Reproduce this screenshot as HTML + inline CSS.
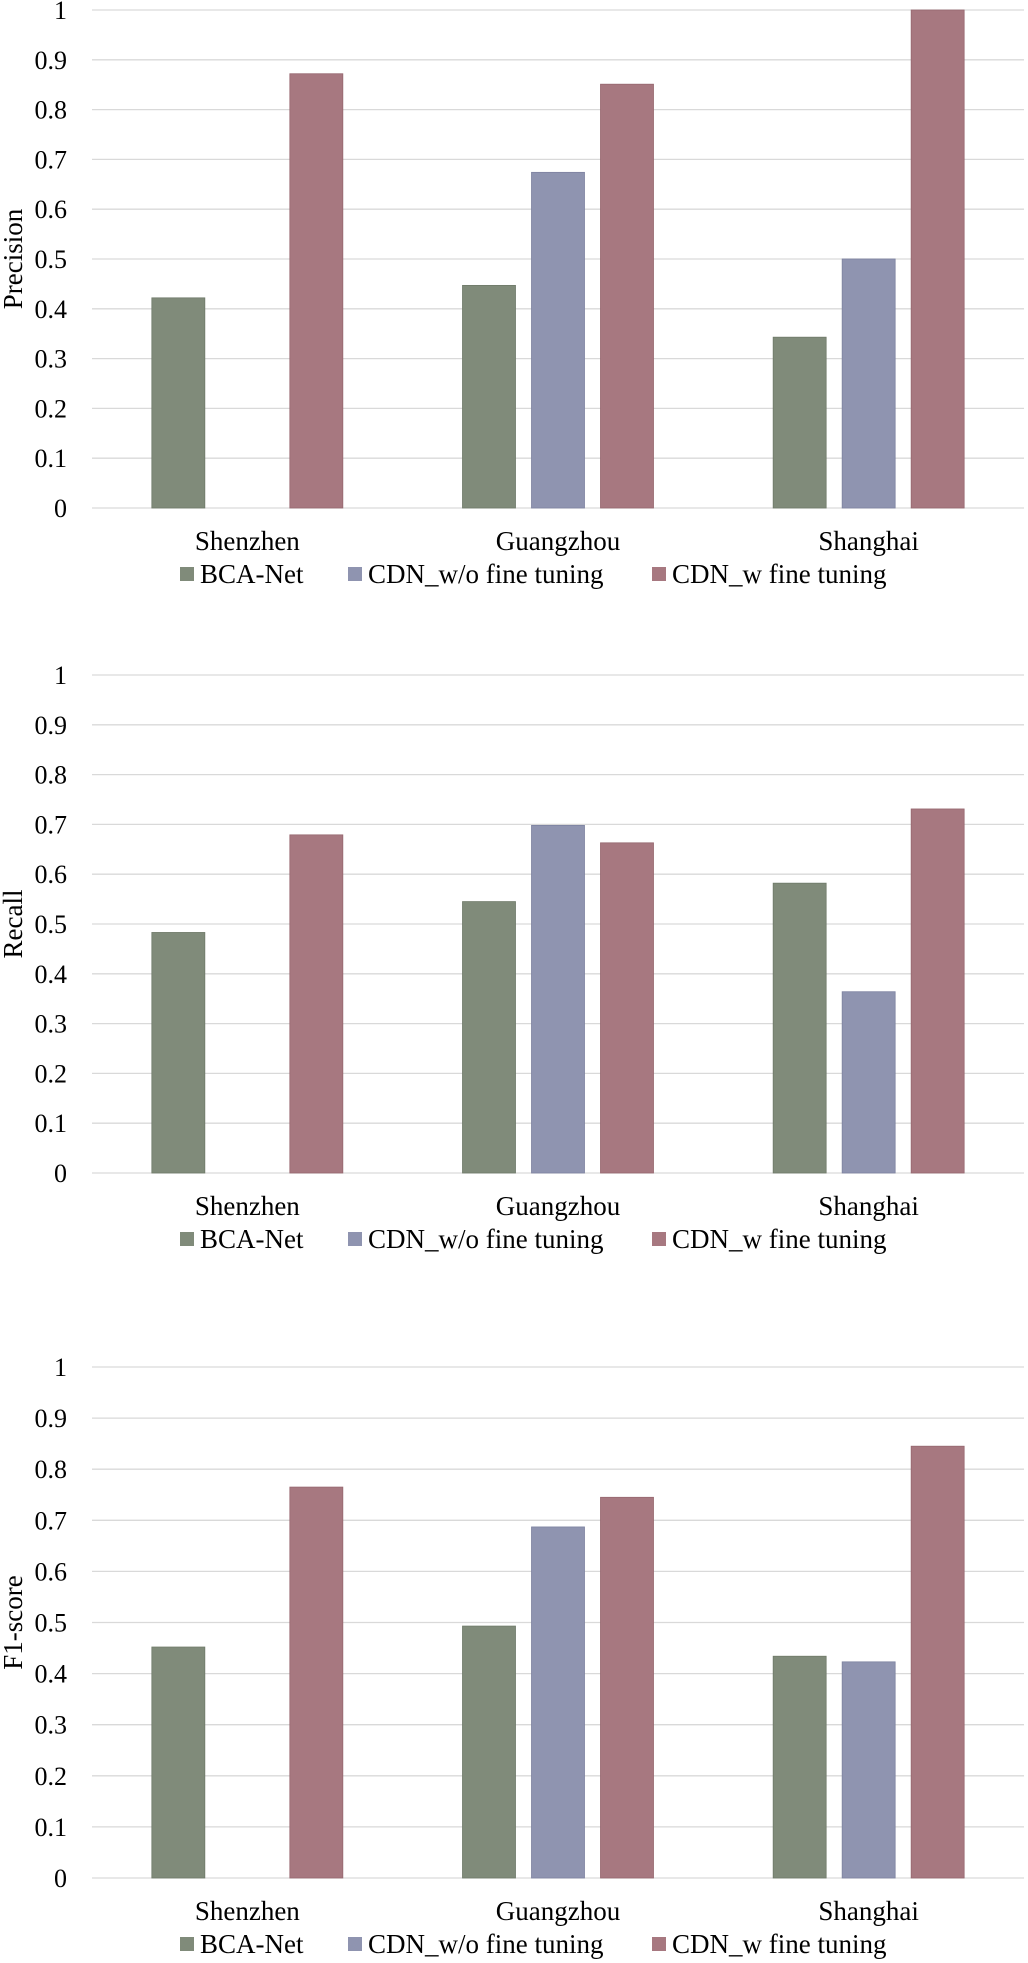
<!DOCTYPE html>
<html><head><meta charset="utf-8"><style>
html,body{margin:0;padding:0;background:#fff}
svg{display:block}
svg text{font-family:"Liberation Serif","DejaVu Serif",serif}
</style></head><body>
<svg id="chart" width="1028" height="1963" xmlns="http://www.w3.org/2000/svg" font-family="Liberation Serif, serif"></svg>
<script>
const categories = ["Shenzhen", "Guangzhou", "Shanghai"];
const seriesNames = ["BCA-Net", "CDN_w/o fine tuning", "CDN_w fine tuning"];
const tickLabels = ["0","0.1","0.2","0.3","0.4","0.5","0.6","0.7","0.8","0.9","1"];
const panelTitles = ["Precision", "Recall", "F1-score"];
const precisionBCA = [0.422, 0.447, 0.343];
const precisionWo = [null, 0.674, 0.5];
const precisionW = [0.872, 0.851, 1.0];
const recallBCA = [0.483, 0.545, 0.582];
const recallWo = [null, 0.698, 0.364];
const recallW = [0.679, 0.663, 0.731];
const f1BCA = [0.452, 0.493, 0.434];
const f1Wo = [null, 0.687, 0.423];
const f1W = [0.765, 0.745, 0.845];

const colors = ["#808b7a", "#8f94b0", "#a77880"];
const strokes = ["#6f7a69", "#7d82a0", "#96676f"];
const panels = [
  {top:10, bottom:508, series:[precisionBCA, precisionWo, precisionW]},
  {top:675, bottom:1173, series:[recallBCA, recallWo, recallW]},
  {top:1367, bottom:1878, series:[f1BCA, f1Wo, f1W]}
];
const NS = "http://www.w3.org/2000/svg";
const svg = document.getElementById("chart");
const plotL = 92, plotR = 1024;
const catW = (plotR - plotL) / categories.length;
const barW = 53, barStep = 69;
const FF = '"Liberation Serif", serif';
function mk(tag, attrs, parent){
  const e = document.createElementNS(NS, tag);
  for (const k in attrs) e.setAttribute(k, attrs[k]);
  if (tag === "text") e.style.fontFamily = FF;
  (parent || svg).appendChild(e);
  return e;
}
function xCenter(i){ return plotL + catW * (i + 0.5); }

panels.forEach((p, pi) => {
  const g = mk("g", {});
  
  
  const y = v => p.bottom - v * (p.bottom - p.top);
  tickLabels.forEach((t, ti) => {
    const v = parseFloat(t);
    const line = mk("line", {x1:plotL, x2:plotR, y1:y(v), y2:y(v), stroke:"#d9d9d9", "stroke-width":1.3}, g);
    
    
    const tx = mk("text", {x:67, y:y(v)+9, "text-anchor":"end", "font-size":26, fill:"#000"}, g);
    tx.textContent = t;
    
    
  });
  p.series.forEach((vals, si) => {
    vals.forEach((v, ci) => {
      if (v === null) return;
      const cx = xCenter(ci) + (si - 1) * barStep;
      const r = mk("rect", {x:cx - barW/2, y:y(v), width:barW, height:p.bottom - y(v), fill:colors[si], stroke:strokes[si], "stroke-width":0.8}, g);
      
      
    });
  });
  categories.forEach((c, ci) => {
    const tx = mk("text", {x:xCenter(ci), y:p.bottom+42, "text-anchor":"middle", "font-size":27, fill:"#000"}, g);
    tx.textContent = c;
    
    
  });
  const mid = (p.top + p.bottom) / 2;
  const yt = mk("text", {x:0, y:0, transform:"translate(22," + mid + ") rotate(-90)", "text-anchor":"middle", "font-size":27, fill:"#000"}, g);
  yt.textContent = panelTitles[pi];
  
  
  const legX = [180, 348, 652];
  seriesNames.forEach((s, si) => {
    const sq = mk("rect", {x:legX[si], y:p.bottom+59, width:14, height:14, fill:colors[si]}, g);
    
    
    const tx = mk("text", {x:legX[si]+20, y:p.bottom+75, "font-size":27, fill:"#000"}, g);
    tx.textContent = s;
    
    
  });
});
</script>
</body></html>
